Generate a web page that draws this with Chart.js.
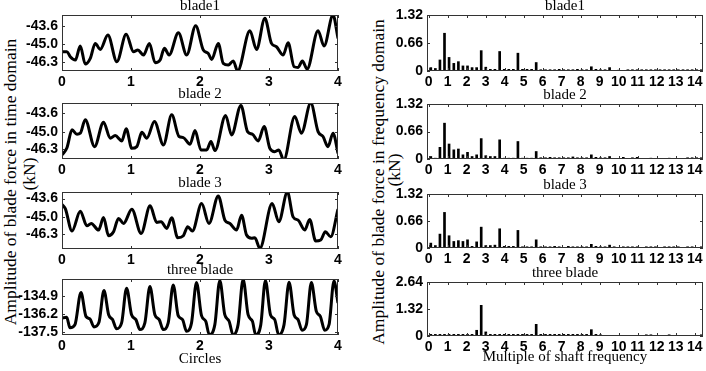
<!DOCTYPE html>
<html>
<head>
<meta charset="utf-8">
<script src="https://cdn.jsdelivr.net/npm/chart.js@4.4.0/dist/chart.umd.min.js"></script>
<style>
  body { margin:0; background:#fff; width:706px; height:371px; position:relative; overflow:hidden; }
  canvas { position:absolute; }
  .ylab { position:absolute; font-family:'Liberation Serif', serif; font-size:17.5px; white-space:nowrap;
          transform:translate(-50%,-50%) rotate(-90deg); color:#000; }
</style>
</head>
<body>
<div class="ylab" style="left:10px;top:182px">Amplitude of blade force in time domain</div>
<div class="ylab" style="left:29px;top:174px">(kN)</div>
<div class="ylab" style="left:378px;top:182px">Amplitude of blade force in frequency domain</div>
<div class="ylab" style="left:394px;top:170px">(kN)</div>
<script>
// ---------- time domain (circles) ----------
var circleTicks = [0, 1, 2, 3, 4];
var bladeTicks = [-46.3, -45.0, -43.6];
var threeBladeTicks = [-137.5, -136.2, -134.9];

var blade1Time = [0,0.072,0.120,0.193,0.265,0.337,0.410,0.482,0.554,0.665,0.795,0.930,1.036,1.099,1.181,1.267,1.349,1.422,1.484,1.552,1.687,1.807,1.937,2.048,2.120,2.169,2.265,2.337,2.410,2.482,2.545,2.723,2.819,2.940,3.036,3.108,3.205,3.277,3.364,3.422,3.484,3.552,3.711,3.798,3.928,4.0];
var blade1Force = [-45.55,-45.55,-45.93,-46.18,-45.13,-46.48,-46.05,-44.93,-45.38,-44.30,-46.30,-44.25,-45.55,-45.43,-45.80,-44.93,-46.38,-46.18,-45.30,-45.80,-44.13,-45.80,-43.60,-45.43,-45.68,-46.13,-44.93,-46.43,-46.55,-46.25,-47.00,-43.98,-45.38,-43.05,-44.93,-45.18,-45.80,-44.88,-46.68,-46.73,-46.25,-46.85,-43.98,-45.13,-42.80,-44.55];

var blade2Time = [0,0.072,0.145,0.217,0.265,0.337,0.472,0.602,0.699,0.771,0.867,0.930,1.012,1.084,1.157,1.229,1.340,1.470,1.590,1.696,1.759,1.855,1.928,2.014,2.096,2.159,2.217,2.371,2.458,2.593,2.689,2.761,2.843,2.930,3.012,3.084,3.142,3.214,3.373,3.470,3.605,3.711,3.783,3.855,3.928,4.0];
var blade2Force = [-46.75,-46.20,-44.86,-45.19,-45.11,-44.10,-46.12,-44.28,-45.49,-45.29,-45.69,-44.78,-46.25,-46.12,-45.04,-45.49,-44.23,-45.99,-43.73,-45.36,-45.44,-45.94,-44.91,-46.37,-46.37,-45.74,-46.42,-43.78,-45.24,-43.02,-44.99,-45.19,-45.69,-44.61,-46.25,-46.50,-46.37,-47.13,-43.85,-45.11,-42.84,-44.99,-45.36,-46.12,-45.11,-46.62];

var blade3Time = [0,0.048,0.145,0.265,0.361,0.424,0.530,0.602,0.675,0.747,0.819,0.892,1.012,1.147,1.277,1.373,1.436,1.518,1.590,1.677,1.759,1.822,1.889,2.024,2.130,2.265,2.361,2.434,2.530,2.602,2.675,2.747,2.795,2.867,3.046,3.142,3.267,3.349,3.422,3.518,3.590,3.677,3.749,3.817,3.894,4.0];
var blade3Force = [-44.05,-44.36,-46.07,-44.56,-45.67,-45.49,-45.99,-45.04,-46.42,-46.12,-45.11,-45.49,-44.41,-46.25,-44.15,-45.41,-45.36,-45.87,-45.06,-46.57,-46.42,-45.74,-46.07,-43.98,-45.49,-43.40,-45.24,-45.49,-45.99,-44.86,-46.37,-46.62,-46.57,-47.38,-43.98,-45.36,-43.10,-44.99,-45.24,-45.99,-45.19,-46.83,-46.75,-46.12,-46.50,-44.41];

var threeTime = [0,0.068,0.116,0.188,0.275,0.347,0.405,0.463,0.536,0.608,0.676,0.733,0.791,0.864,0.936,1.008,1.071,1.129,1.201,1.274,1.346,1.409,1.467,1.539,1.612,1.684,1.747,1.805,1.877,1.949,2.022,2.084,2.133,2.215,2.287,2.359,2.422,2.480,2.552,2.625,2.697,2.760,2.808,2.881,2.948,3.021,3.083,3.141,3.218,3.291,3.363,3.421,3.479,3.542,3.614,3.686,3.744,3.807,3.870,3.942,4.0];
var threeForce = [-136.48,-136.44,-137.19,-136.96,-134.66,-136.37,-136.55,-137.12,-136.79,-134.52,-136.25,-136.60,-137.26,-136.84,-134.36,-136.25,-136.60,-137.31,-136.84,-134.24,-136.25,-136.60,-137.31,-136.84,-134.12,-136.32,-136.60,-137.43,-136.84,-133.95,-136.32,-136.72,-137.67,-136.96,-133.81,-136.25,-136.72,-137.71,-136.96,-133.72,-136.25,-136.72,-137.71,-136.96,-133.81,-136.25,-136.60,-137.71,-136.96,-133.93,-136.25,-136.60,-137.36,-136.96,-133.95,-136.01,-136.37,-137.36,-136.96,-133.84,-135.42];

// ---------- frequency domain (multiple of shaft frequency) ----------
var shaftTicks = [0,1,2,3,4,5,6,7,8,9,10,11,12,13,14];
var ampTicks = [0, 0.66, 1.32];
var ampTicksThree = [0, 1.32, 2.64];
var freqBins = [0.12,0.36,0.60,0.84,1.08,1.33,1.57,1.81,2.05,2.29,2.53,2.77,3.01,3.25,3.49,3.74,3.98,4.22,4.46,4.70,4.94,5.18,5.42,5.66,5.90,6.15,6.39,6.63,6.87,7.11,7.35,7.59,7.83,8.07,8.31,8.56,8.80,9.04,9.28,9.52,9.76,10.00,10.24,10.48,10.72,10.97,11.21,11.45,11.69,11.93,12.17,12.41,12.65,12.89,13.13,13.38,13.62,13.86,14.10,14.34];
var blade1Amp = [0.08,0.06,0.26,0.89,0.32,0.18,0.22,0.12,0.12,0.08,0.08,0.48,0.09,0.04,0.04,0.46,0.04,0.04,0.04,0.42,0.04,0.04,0.04,0.20,0.03,0.03,0.03,0.03,0.04,0.03,0.03,0.03,0.04,0.03,0.03,0.10,0.04,0.03,0.03,0.08,0.00,0.02,0.00,0.03,0.03,0.03,0.03,0.03,0.03,0.03,0.03,0.03,0.03,0.03,0.03,0.03,0.03,0.03,0.03,0.03];
var blade2Amp = [0.06,0.02,0.28,0.86,0.36,0.22,0.24,0.10,0.16,0.06,0.10,0.49,0.08,0.06,0.06,0.46,0.02,0.02,0.02,0.42,0.02,0.02,0.02,0.18,0.03,0.03,0.04,0.03,0.03,0.03,0.03,0.05,0.03,0.03,0.03,0.10,0.04,0.03,0.03,0.06,0.00,0.00,0.04,0.00,0.03,0.04,0.00,0.00,0.02,0.00,0.00,0.00,0.02,0.00,0.00,0.00,0.03,0.03,0.03,0.03];
var blade3Amp = [0.12,0.06,0.34,0.87,0.30,0.16,0.18,0.16,0.20,0.04,0.15,0.51,0.06,0.06,0.07,0.47,0.04,0.04,0.04,0.43,0.03,0.03,0.03,0.20,0.03,0.03,0.03,0.04,0.03,0.00,0.04,0.03,0.03,0.03,0.03,0.09,0.04,0.03,0.03,0.07,0.03,0.00,0.03,0.03,0.03,0.03,0.00,0.03,0.03,0.03,0.00,0.03,0.03,0.03,0.03,0.00,0.03,0.03,0.00,0.03];
var threeAmp = [0.08,0.08,0.08,0.08,0.08,0.08,0.08,0.08,0.08,0.08,0.28,1.50,0.20,0.08,0.08,0.08,0.08,0.08,0.08,0.08,0.08,0.08,0.08,0.57,0.08,0.08,0.08,0.08,0.08,0.08,0.08,0.08,0.08,0.08,0.08,0.31,0.08,0.06,0.00,0.00,0.00,0.00,0.00,0.00,0.00,0.00,0.00,0.06,0.06,0.00,0.00,0.00,0.06,0.00,0.00,0.00,0.00,0.00,0.00,0.06];

/******************** shared bits ********************/
var tickFont = { family: 'Liberation Sans', size: 14, weight: 'bold' };
var serifFont = { family: 'Liberation Serif', size: 15, weight: 'normal' };
Chart.defaults.color = '#000';

// box round the plot with small inward ticks, like the matlab axes
var boxPlugin = {
  id: 'box',
  afterDatasetsDraw: function(chart) {
    var ctx = chart.ctx, a = chart.chartArea, sx = chart.scales.x, sy = chart.scales.y;
    ctx.save();
    ctx.strokeStyle = '#333';
    ctx.lineWidth = 1;
    ctx.strokeRect(a.left + 0.5, a.top + 0.5, a.right - a.left - 1, a.bottom - a.top - 1);
    ctx.beginPath();
    sx.ticks.forEach(function(t) {
      var px = Math.round(sx.getPixelForValue(t.value)) + 0.5;
      ctx.moveTo(px, a.bottom); ctx.lineTo(px, a.bottom - 3);
      ctx.moveTo(px, a.top); ctx.lineTo(px, a.top + 3);
    });
    sy.ticks.forEach(function(t) {
      var py = Math.round(sy.getPixelForValue(t.value)) + 0.5;
      ctx.moveTo(a.left, py); ctx.lineTo(a.left + 3, py);
      ctx.moveTo(a.right, py); ctx.lineTo(a.right - 3, py);
    });
    ctx.stroke();
    ctx.restore();
  }
};

function addCanvas(left, top, w, h) {
  var c = document.createElement('canvas');
  c.width = w; c.height = h;
  c.style.left = left + 'px'; c.style.top = top + 'px';
  document.body.appendChild(c);
  return c;
}

function timePanel(top, h, title, times, forces, yMin, yMax, yTicks, xTitle) {
  var xh = xTitle ? 33 : 20;
  var cv = addCanvas(0, top - 18, 350, 18 + h + xh);
  new Chart(cv, {
    type: 'line',
    data: {
      datasets: [{
        data: times.map(function(t, i) { return { x: t, y: forces[i] }; }),
        borderColor: '#000', borderWidth: 3, pointRadius: 0,
        cubicInterpolationMode: 'monotone', fill: false
      }]
    },
    options: {
      responsive: false, animation: false,
      layout: { padding: { right: 12 } },
      plugins: {
        legend: { display: false }, tooltip: { enabled: false },
        title: { display: true, text: title, font: serifFont, color: '#000', padding: 0, fullSize: false }
      },
      scales: {
        x: {
          type: 'linear', min: 0, max: 4,
          grid: { display: false, drawTicks: false }, border: { display: false },
          afterBuildTicks: function(s) { s.ticks = circleTicks.map(function(v) { return { value: v }; }); },
          afterFit: function(s) { s.height = xh; },
          ticks: { font: tickFont, color: '#000', padding: 3, maxRotation: 0, autoSkip: false },
          title: { display: !!xTitle, text: xTitle || '', font: serifFont, color: '#000', padding: 0 }
        },
        y: {
          type: 'linear', min: yMin, max: yMax,
          grid: { display: false, drawTicks: false }, border: { display: false },
          afterBuildTicks: function(s) { s.ticks = yTicks.map(function(v) { return { value: v }; }); },
          afterFit: function(s) { s.width = 62; },
          ticks: { font: tickFont, color: '#000', padding: 4, autoSkip: false,
                   callback: function(v) { return Number(v).toFixed(1); } }
        }
      }
    },
    plugins: [boxPlugin]
  });
}

function freqPanel(top, h, title, amps, yMax, yTicks, yLabels, xTitle) {
  var xh = xTitle ? 30 : 20;
  var cv = addCanvas(360, top - 18, 346, 18 + h + xh);
  new Chart(cv, {
    type: 'bar',
    data: {
      datasets: [{
        data: freqBins.map(function(f, i) { return { x: f, y: amps[i] }; }),
        backgroundColor: '#000', borderWidth: 0, barThickness: 2
      }]
    },
    options: {
      responsive: false, animation: false,
      layout: { padding: { right: 3 } },
      plugins: {
        legend: { display: false }, tooltip: { enabled: false },
        title: { display: true, text: title, font: serifFont, color: '#000', padding: 0, fullSize: false }
      },
      scales: {
        x: {
          type: 'linear', min: -0.08, max: 14.43, offset: false,
          grid: { display: false, drawTicks: false, offset: false }, border: { display: false },
          afterBuildTicks: function(s) { s.ticks = shaftTicks.map(function(v) { return { value: v }; }); },
          afterFit: function(s) { s.height = xh; },
          ticks: { font: tickFont, color: '#000', padding: 3, maxRotation: 0, autoSkip: false },
          title: { display: !!xTitle, text: xTitle || '', font: serifFont, color: '#000', padding: 0 }
        },
        y: {
          type: 'linear', min: 0, max: yMax,
          grid: { display: false, drawTicks: false }, border: { display: false },
          afterBuildTicks: function(s) { s.ticks = yTicks.map(function(v) { return { value: v }; }); },
          afterFit: function(s) { s.width = 67; },
          ticks: { font: tickFont, color: '#000', padding: 4, autoSkip: false,
                   callback: function(v, i) { return yLabels[i]; } }
        }
      }
    },
    plugins: [boxPlugin]
  });
}

/******************** left column: time domain ********************/
timePanel(15, 56, 'blade1', blade1Time, blade1Force, -47.0, -42.8, bladeTicks);
timePanel(103, 56, 'blade 2', blade2Time, blade2Force, -47.05, -42.84, bladeTicks);
timePanel(192, 57, 'blade 3', blade3Time, blade3Force, -47.43, -43.1, bladeTicks);
timePanel(279, 56, 'three blade', threeTime, threeForce, -137.7, -133.7, threeBladeTicks, 'Circles');

/******************** right column: frequency domain ********************/
freqPanel(15, 56, 'blade1', blade1Amp, 1.32, ampTicks, ['0', '0.66', '1.32']);
freqPanel(104, 55, 'blade 2', blade2Amp, 1.32, ampTicks, ['0', '0.66', '1.32']);
freqPanel(194, 54, 'blade 3', blade3Amp, 1.32, ampTicks, ['0', '0.66', '1.32']);
freqPanel(282, 54, 'three blade', threeAmp, 2.64, ampTicksThree, ['0', '1.32', '2.64'], 'Multiple of shaft frequency');
</script>
</body>
</html>
